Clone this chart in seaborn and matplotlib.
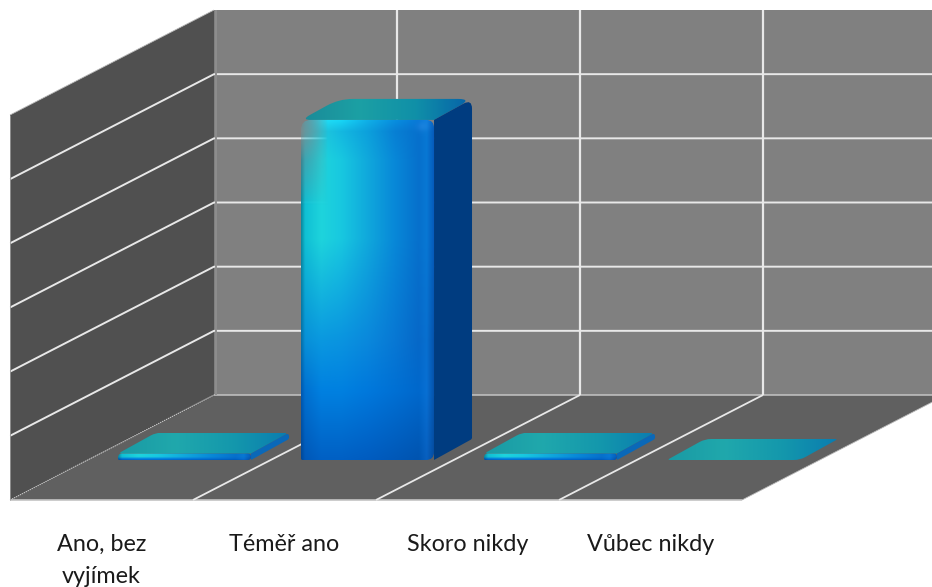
import numpy as np
import pandas as pd
import matplotlib
matplotlib.use("Agg")
import matplotlib.pyplot as plt
from matplotlib.colors import to_rgb
from matplotlib.path import Path
from matplotlib.patches import Polygon, PathPatch
from matplotlib.transforms import IdentityTransform
import seaborn as sns

# Survey answers and their counts
categories = ["Ano, bez\nvyjímek", "Téměř ano", "Skoro nikdy", "Vůbec nikdy"]
counts = [1, 53, 1, 0]
value_ticks = [0, 10, 20, 30, 40, 50, 60]

W, H, DPI = 932, 587, 100
FRONT_L, FRONT_R, FRONT_B, FRONT_T = 10, 742, 500, 115

sns.set_theme(style="white")
plt.rcParams["font.family"] = ["Lato", "DejaVu Sans"]

fig = plt.figure(figsize=(W / DPI, H / DPI), dpi=DPI, facecolor="white")
ax = fig.add_axes([FRONT_L / W, 1 - FRONT_B / H,
                   (FRONT_R - FRONT_L) / W, (FRONT_B - FRONT_T) / H])

frame = pd.DataFrame({"odpoved": categories, "pocet": counts})
sns.barplot(data=frame, x="odpoved", y="pocet", ax=ax, width=0.727, color="#0a90e0")
ax.set_xlim(-0.5, 3.5)
ax.set_ylim(value_ticks[0], value_ticks[-1])
ax.set_autoscale_on(False)
ax.patch.set_visible(False)
sns.despine(ax=ax, left=True, bottom=True, top=True, right=True)
ax.set_xlabel("")
ax.set_ylabel("")
ax.set_yticks([])
ax.tick_params(axis="x", length=0, pad=24.5, labelsize=16.8, colors="#1a1a1a")
for label in ax.get_xticklabels():
    label.set_linespacing(1.62)

# Data units per pixel on the front plane
px_x = 4 / (FRONT_R - FRONT_L)
px_y = (value_ticks[-1] - value_ticks[0]) / (FRONT_B - FRONT_T)

# Depth of the room and of a single column, expressed as data offsets
ROOM_DX, ROOM_DY = 204 * px_x, 105 * px_y
BAR_DX, BAR_DY = 38 * px_x, 21 * px_y
SHIFT_X, SHIFT_Y = 83 * px_x, 40 * px_y

XL, XR = -0.5, 3.5
YB, YT = value_ticks[0], value_ticks[-1]


def wall(points, color):
    ax.add_patch(Polygon(points, closed=True, facecolor=color, edgecolor="none",
                         zorder=0.5, clip_on=False))


def rule(xs, ys, color="#e8e8e8", lw=1.4, z=0.8, **kw):
    ax.plot(xs, ys, color=color, lw=lw, zorder=z, clip_on=False,
            solid_capstyle="butt", **kw)


# Walls and floor of the box
wall([(XL + ROOM_DX, YB + ROOM_DY), (XR + ROOM_DX, YB + ROOM_DY),
      (XR + ROOM_DX, YT + ROOM_DY), (XL + ROOM_DX, YT + ROOM_DY)], "#808080")
wall([(XL, YB), (XL + ROOM_DX, YB + ROOM_DY),
      (XL + ROOM_DX, YT + ROOM_DY), (XL, YT)], "#505050")
wall([(XL, YB), (XR, YB), (XR + ROOM_DX, YB + ROOM_DY),
      (XL + ROOM_DX, YB + ROOM_DY)], "#606060")

# Gridlines on the walls
for v in value_ticks[1:-1]:
    rule([XL, XL + ROOM_DX, XR + ROOM_DX], [v, v + ROOM_DY, v + ROOM_DY])
rule([XL + ROOM_DX, XR + ROOM_DX], [YB + ROOM_DY, YB + ROOM_DY], color="#c4c4c4", lw=1.1)
rule([XL + ROOM_DX + 1.5 * px_x] * 2, [YB + ROOM_DY, YT + ROOM_DY], color="#8e8e8e", lw=1.4)
rule([XL, XL + ROOM_DX], [YB, YB + ROOM_DY], color="#c8c8c8", lw=0.8, linestyle=(0, (1, 1)))
rule([XL, XL + ROOM_DX], [YT, YT + ROOM_DY], color="#b8b8b8", lw=0.6)
rule([XR, XR + ROOM_DX], [YB, YB + ROOM_DY], color="#b8b8b8", lw=0.6)
rule([XL, XR], [YB, YB], color="#c4c4c4", lw=1.2)
rule([XL, XL], [YB, YT], color="#9a9a9a", lw=0.6)
for c in range(1, 4):
    edge = XL + c
    rule([edge, edge + ROOM_DX], [YB, YB + ROOM_DY], lw=1.3)
    rule([edge + ROOM_DX] * 2, [YB + ROOM_DY, YT + ROOM_DY], lw=1.6)

# Horizontal colour stops of a column face, listed from top to bottom
X_STOPS = [0, .03, .15, .3, .5, .7, .88, .94, 1]
Y_STOPS_TALL = [0, .035, .12, .35, .65, .8, 1]
Y_STOPS_LOW = [0, .05, .1, .55, .72, .85, 1]
FACE_ROWS = [
    ["#4aa0b0", "#30c0d8", "#22e0f8", "#18d8f8", "#10b0e8", "#0890e0", "#0878d8", "#1080e0", "#0a60c0"],
    ["#6aa0a8", "#40b8c8", "#20c8dc", "#14b8e0", "#0ca0dc", "#0880d4", "#0670cc", "#0878d4", "#0658b8"],
    ["#0a8aa0", "#10c0d4", "#1ed4dc", "#18c8e0", "#10a8dc", "#0888d8", "#0670cc", "#0878d4", "#0558b8"],
    ["#0a8aa0", "#10c0d4", "#1ed4dc", "#18c8e0", "#10a8dc", "#0888d8", "#0670cc", "#0878d4", "#0558b8"],
    ["#0570a8", "#0890d8", "#0a98e0", "#0a94e0", "#0a88dc", "#0878d4", "#0668c8", "#0870d0", "#0450a8"],
    ["#0058b0", "#0070d0", "#0080e0", "#0080e0", "#0078dc", "#0070d4", "#0068cc", "#0870d4", "#0450a8"],
    ["#004898", "#0058b8", "#0060c4", "#0060c4", "#005cc0", "#0058b8", "#0054b0", "#0860c0", "#044a9c"],
]
TOP_TALL = ["#1a8a98", "#1ca0a4", "#1090a8", "#0660a8"]
TOP_LOW = ["#1a9aa4", "#20a8ac", "#1498ac", "#0a7cb0"]


def face_image(width_px, height_px):
    tall = height_px > 100
    y_stops = Y_STOPS_TALL if tall else Y_STOPS_LOW
    rows = np.array([[to_rgb(c) for c in row] for row in FACE_ROWS])
    xs = np.linspace(0, 1, 240)
    ys = np.linspace(0, 1, 340)
    by_x = np.stack([[np.interp(xs, X_STOPS, rows[r, :, k]) for k in range(3)]
                     for r in range(len(y_stops))])
    img = np.empty((ys.size, xs.size, 4))
    for k in range(3):
        for i in range(xs.size):
            img[:, i, k] = np.interp(ys, y_stops, by_x[:, k, i])
    img[..., 3] = 1.0
    if tall:
        # Soft translucent glare in the upper left corner of a tall column
        xx, yy = np.meshgrid(xs * width_px, ys * height_px)
        fade_x = np.clip(1 - xx / 26, 0, 1)
        fade_y = np.clip(1 - yy / 85, 0, 1)
        img[..., 3] = 1 - 0.72 * fade_x ** 0.7 * fade_y ** 0.8
        spot = np.exp(-(((xx - 121) / 6) ** 2 + ((yy - 7) / 5) ** 2))[..., None]
        img[..., :3] = img[..., :3] * (1 - 0.4 * spot) + np.array(to_rgb("#3090e8")) * 0.4 * spot
    return img


def rounded(points, radii):
    """Closed path in display units through points, with rounded corners."""
    pts = ax.transData.transform(points)
    verts, codes = [], []
    n = len(pts)
    for i in range(n):
        p, prev, nxt = pts[i], pts[i - 1], pts[(i + 1) % n]
        r = max(radii[i], 0.01)
        a = p + (prev - p) / np.linalg.norm(prev - p) * r
        b = p + (nxt - p) / np.linalg.norm(nxt - p) * r
        verts.append(a)
        codes.append(Path.MOVETO if i == 0 else Path.LINETO)
        verts += [p, b]
        codes += [Path.CURVE3, Path.CURVE3]
    verts.append(verts[0])
    codes.append(Path.CLOSEPOLY)
    return Path(verts, codes)


def paint(image, extent, path, z):
    art = ax.imshow(image, extent=extent, aspect="auto", origin="upper",
                    interpolation="bilinear", zorder=z)
    art.set_clip_box(fig.bbox)
    art.set_clip_path(path, IdentityTransform())


def horizontal(stops):
    rgb = np.array([to_rgb(c) for c in stops])
    xs = np.linspace(0, 1, 200)
    return np.stack([np.interp(xs, np.linspace(0, 1, len(stops)), rgb[:, k])
                     for k in range(3)], axis=1)[None, ...]


# Move each column back into the room and give it its faces
for patch in list(ax.patches):
    if not hasattr(patch, "get_width") or patch.get_width() > 0.9:
        continue
    patch.set_x(patch.get_x() + SHIFT_X)
    patch.set_y(patch.get_y() + SHIFT_Y)
    patch.set_facecolor("none")
    patch.set_edgecolor("none")
    patch.set_clip_on(False)
    x0, x1 = patch.get_x(), patch.get_x() + patch.get_width()
    y0, y1 = patch.get_y(), patch.get_y() + patch.get_height()
    height_px = (y1 - y0) / px_y
    width_px = (x1 - x0) / px_x
    tall = height_px > 100
    r = 10 if tall else 4
    r_back = 14 if tall else 6

    top = [(x0, y1), (x1, y1), (x1 + BAR_DX, y1 + BAR_DY), (x0 + BAR_DX, y1 + BAR_DY)]
    top_radii = [r, 0, r_back, r_back] if height_px > 0 else [3, r_back, 3, r_back]
    paint(horizontal(TOP_TALL if tall else TOP_LOW),
          (x0, x1 + BAR_DX, y1, y1 + BAR_DY),
          rounded(top, top_radii), 2)

    if height_px > 0:
        side = [(x1, y0), (x1 + BAR_DX, y0 + BAR_DY),
                (x1 + BAR_DX, y1 + BAR_DY), (x1, y1)]
        ax.add_patch(PathPatch(rounded(side, [0, 1.5, r_back * 0.7, 0]),
                               transform=IdentityTransform(),
                               facecolor="#003c80" if tall else "#0a68b8",
                               edgecolor="none", zorder=2.1, clip_on=False))
        front = [(x0, y0), (x1, y0), (x1, y1), (x0, y1)]
        paint(face_image(width_px, height_px), (x0, x1, y0, y1),
              rounded(front, [1.5, r * 0.8, r * 0.8, r]), 2.2)

fig.savefig("out.png", dpi=DPI, facecolor="white")
